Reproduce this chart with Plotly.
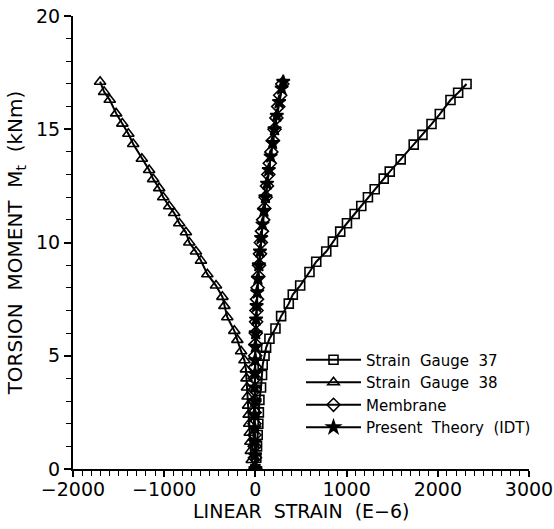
import plotly.graph_objects as go

# Strain Gauge 37 (squares)
sg37_m = [0, 0.5, 1.0, 1.5, 2.0, 2.5, 3.05, 3.6, 4.15, 4.6, 5.0, 5.35, 5.75, 6.2, 6.75, 7.3, 7.7, 8.1,
          8.7, 9.15, 9.6, 10.04, 10.48, 10.85, 11.26, 11.61, 12.0, 12.35, 12.82, 13.13, 13.67, 14.32,
          14.75, 15.23, 15.67, 16.29, 16.61, 17.0]
sg37_e = [0, 10, 18, 25, 32, 38, 44, 62, 73, 80, 100, 117, 154, 220, 282, 366, 410, 491,
          593, 667, 777, 850, 930, 1004, 1088, 1161, 1234, 1308, 1407, 1473, 1593, 1736,
          1832, 1931, 2022, 2139, 2223, 2315]

# Strain Gauge 38 (triangles)
sg38_m = [0, 0.4, 0.8, 1.2, 1.6, 2.0, 2.4, 2.8, 3.2, 3.6, 4.0, 4.4, 4.8, 5.2, 5.7, 6.1, 6.7, 7.2, 7.6,
          8.1, 8.6, 9.2, 9.6, 10.0, 10.45, 10.85, 11.3, 11.6, 12.0, 12.4, 12.8, 13.2, 13.7, 14.35,
          14.8, 15.25, 15.7, 16.3, 16.65, 17.1]
sg38_e = [0, -40, -50, -55, -62, -68, -74, -80, -86, -92, -98, -104, -120, -157, -198, -231, -308, -340, -362,
          -432, -527, -597, -652, -725, -762, -835, -890, -945, -1011, -1055, -1121, -1165, -1245, -1340,
          -1393, -1459, -1527, -1597, -1659, -1703]

# Membrane (diamonds)
mem_m = [0, 0.5, 1.0, 1.5, 2.0, 2.5, 3.0, 3.5, 4.0, 4.5, 5.0, 5.5, 6.0, 6.5, 7.0, 7.5, 8.0, 8.5, 9.0,
         9.5, 10.0, 10.5, 11.0, 11.5, 12.0, 12.5, 13.0, 13.5, 14.0, 14.5, 15.0, 15.5, 16.0, 16.5, 17.0]
mem_e = [0, -5, -8, -10, -10, -10, -9, -8, -6, -4, -2, 0, 4, 8, 12, 18, 24, 32, 40,
         50, 60, 72, 85, 98, 112, 127, 142, 158, 175, 192, 210, 230, 250, 272, 295]

# Present Theory (IDT) (stars)
idt_m = [0, 0.6, 1.2, 1.8, 2.4, 3.0, 3.6, 4.2, 4.8, 5.4, 6.0, 6.6, 7.2, 7.8, 8.4, 9.0, 9.6, 10.2,
         10.8, 11.4, 12.0, 12.6, 13.2, 13.8, 14.4, 15.0, 15.6, 16.2, 16.8, 17.1]
idt_e = [0, -4, -7, -9, -9, -8, -7, -5, -3, 0, 3, 8, 13, 20, 28, 38, 50, 63,
         78, 94, 110, 128, 147, 167, 188, 210, 235, 260, 288, 305]

x_ticks = [-2000, -1000, 0, 1000, 2000, 3000]
y_ticks = [0, 5, 10, 15, 20]

NB = "\u00a0"
names = ["Strain" + NB * 2 + "Gauge" + NB * 2 + "37",
         "Strain" + NB * 2 + "Gauge" + NB * 2 + "38",
         "Membrane",
         "Present" + NB * 2 + "Theory" + NB * 2 + "(IDT)"]
x_title = "LINEAR" + NB * 2 + "STRAIN" + NB * 2 + "(E\u22126)"
y_title = "TORSION" + NB * 2 + "MOMENT" + NB * 2 + "M<sub>t</sub>" + NB * 2 + "(kNm)"

FONT = "DejaVu Sans"
fig = go.Figure()
series = [
    (sg37_e, sg37_m, "square-open", 9),
    (sg38_e, sg38_m, "triangle-up-open", 10),
    (mem_e, mem_m, "diamond-open", 10),
    (idt_e, idt_m, "star", 10),
]
for (x, y, sym, sz), nm in zip(series, names):
    fig.add_trace(go.Scatter(
        x=x, y=y, mode="lines+markers", name=nm,
        line=dict(color="black", width=2),
        marker=dict(symbol=sym, size=sz, color="black", line=dict(color="black", width=1.6)),
    ))

fig.update_layout(
    width=554, height=529,
    margin=dict(l=73, r=25, t=16, b=60),
    paper_bgcolor="white", plot_bgcolor="white",
    font=dict(family=FONT, color="black", size=18),
    showlegend=True,
    legend=dict(x=0.5, y=0.277, xanchor="left", yanchor="top",
                bgcolor="rgba(0,0,0,0)", font=dict(family=FONT, size=15, color="black"),
                tracegroupgap=0, itemwidth=55),
    xaxis=dict(range=[-2000, 3000], tickvals=x_ticks,
               automargin=False,
               showgrid=False, zeroline=False, showline=True, linecolor="black", linewidth=2,
               ticks="outside", ticklen=6, tickwidth=1.5, tickcolor="black",
               minor=dict(dtick=100, ticks="outside", ticklen=5, tickwidth=1, tickcolor="black"),
               ticklabelstandoff=-4,
               tickfont=dict(size=19)),
    yaxis=dict(range=[0, 20], tickvals=y_ticks,
               automargin=False,
               showgrid=False, zeroline=False, showline=True, linecolor="black", linewidth=2,
               ticks="outside", ticklen=7, tickwidth=1.5, tickcolor="black",
               minor=dict(dtick=1, ticks="outside", ticklen=5, tickwidth=1, tickcolor="black"),
               tickfont=dict(size=19),
               title=dict(text=y_title, font=dict(size=20), standoff=8)),
    annotations=[dict(text=x_title, xref="paper", yref="paper", x=0.5, y=0,
                      xanchor="center", yanchor="middle", yshift=-42, showarrow=False,
                      font=dict(family=FONT, size=19, color="black"))],
)

fig.write_html("out.html")
